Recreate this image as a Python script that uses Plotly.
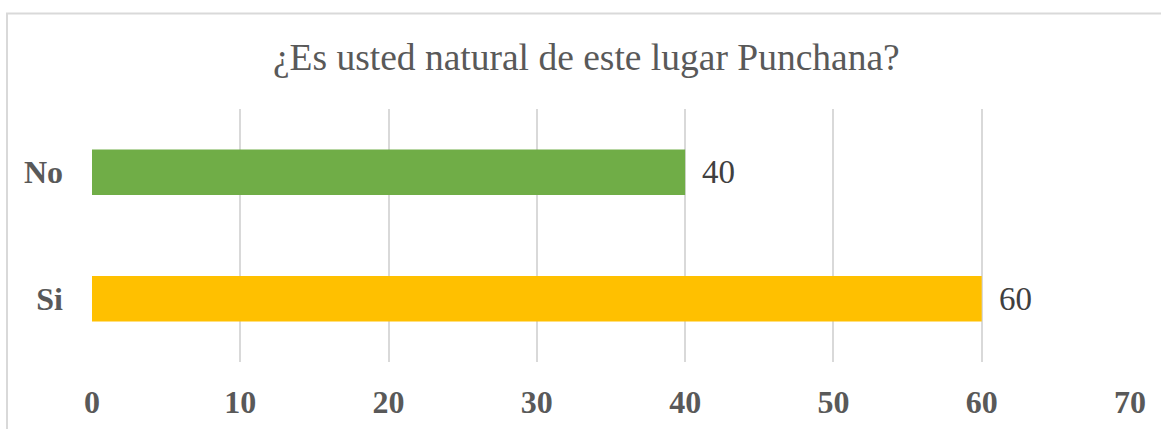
import plotly.graph_objects as go

categories = ["Si", "No"]
values = [60, 40]
colors = ["#FFC000", "#70AD47"]
tick_vals = [0, 10, 20, 30, 40, 50, 60, 70]
title_text = "¿Es usted natural de este lugar Punchana?"

FONT = "Liberation Serif, Times New Roman, serif"

fig = go.Figure()
fig.add_trace(go.Bar(
    y=categories, x=values, orientation="h",
    marker=dict(color=colors, line=dict(width=0)),
    hoverinfo="skip",
))

for c, v in zip(categories, values):
    fig.add_annotation(x=v, y=c, xref="x", yref="y", text=str(v),
                       showarrow=False, xanchor="left", xshift=15,
                       font=dict(family=FONT, size=33, color="#404040"))

W, H = 1161, 429
ml, mr, mt, mb = 92, 31, 109, 67
pw, ph = W - ml - mr, H - mt - mb
fig.add_shape(type="rect", xref="paper", yref="paper",
              x0=(7 - ml) / pw, x1=(W + 20 - ml) / pw,
              y0=-(mb + 20) / ph, y1=1 + (mt - 13.5) / ph,
              line=dict(color="#D9D9D9", width=2), fillcolor="rgba(0,0,0,0)", layer="below")

fig.update_layout(
    width=W, height=H,
    margin=dict(l=ml, r=mr, t=mt, b=mb, autoexpand=False),
    paper_bgcolor="white", plot_bgcolor="white",
    title=dict(text=title_text, x=0.505, xanchor="center", y=1 - 57 / H, yanchor="middle",
               font=dict(family=FONT, size=37.5, color="#595959")),
    bargap=0.64,
    showlegend=False,
    xaxis=dict(range=[0, 70], tickvals=tick_vals, showgrid=True, gridcolor="#D9D9D9", gridwidth=2,
               zeroline=False, showline=False, ticks="", automargin=False,
               tickfont=dict(family=FONT, size=32, color="#595959", weight="bold"),
               ticklabelstandoff=18),
    yaxis=dict(showgrid=False, zeroline=False, showline=False, ticks="", automargin=False,
               tickfont=dict(family=FONT, size=32, color="#595959", weight="bold"),
               ticklabelstandoff=28),
)
fig.write_html("out.html", config={"displayModeBar": False},
               post_script="document.body.style.margin='0';document.body.style.overflow='hidden';")
